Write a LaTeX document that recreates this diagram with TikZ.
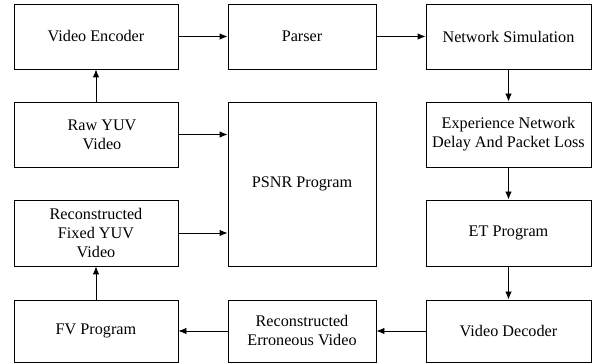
\documentclass[tikz,border=0pt]{standalone}
\usepackage{fontspec}
\setmainfont{Liberation Serif}
\usetikzlibrary{arrows.meta}
\begin{document}
\begin{tikzpicture}[x=1pt,y=-1pt,
  blk/.style={draw, line width=0.9pt, minimum width=#1, inner sep=0pt, align=center,
    font=\fontsize{16.2}{19}\selectfont},
  blk/.default=164pt,
  flow/.style={draw, line width=0.9pt, -{Latex[length=8pt,width=6.5pt]}}]
  \useasboundingbox (0,0) rectangle (592,363);
  % top row
  \node[blk, minimum height=65pt] (enc) at (96,36.5) {Video Encoder};
  \node[blk=148pt, minimum height=65pt] (parser) at (302,36.5) {Parser};
  \node[blk=165pt, minimum height=65pt] (net) at (508.5,36.5) {Network Simulation};
  % second row
  \node[blk, minimum height=65pt] (raw) at (96,134.5) {\hspace*{12pt}Raw YUV\\\hspace*{12pt}Video};
  \node[blk=148pt, minimum height=164pt] (psnr) at (302,184) {PSNR Program};
  \node[blk=165pt, minimum height=65pt] (exp) at (508.5,134.5) {Experience Network\\Delay And Packet Loss};
  % third row
  \node[blk, minimum height=66pt] (fixed) at (96,233) {Reconstructed\\Fixed YUV\\Video};
  \node[blk=165pt, minimum height=66pt] (et) at (508.5,233) {ET Program};
  % bottom row
  \node[blk, minimum height=62pt] (fv) at (96,331) {FV Program};
  \node[blk=148pt, minimum height=62pt] (err) at (302,331) {Reconstructed\\Erroneous Video};
  \node[blk=165pt, minimum height=62pt] (dec) at (508.5,331) {Video Decoder};
  % connectors
  \draw[flow] (enc) -- (parser);
  \draw[flow] (parser) -- (net);
  \draw[flow] (net) -- (exp);
  \draw[flow] (exp) -- (et);
  \draw[flow] (et) -- (dec);
  \draw[flow] (dec) -- (err);
  \draw[flow] (err) -- (fv);
  \draw[flow] (fv) -- (fixed);
  \draw[flow] (raw) -- (enc);
  \draw[flow] (raw.east) -- (raw.east -| psnr.west);
  \draw[flow] (fixed.east) -- (fixed.east -| psnr.west);
\end{tikzpicture}
\end{document}
